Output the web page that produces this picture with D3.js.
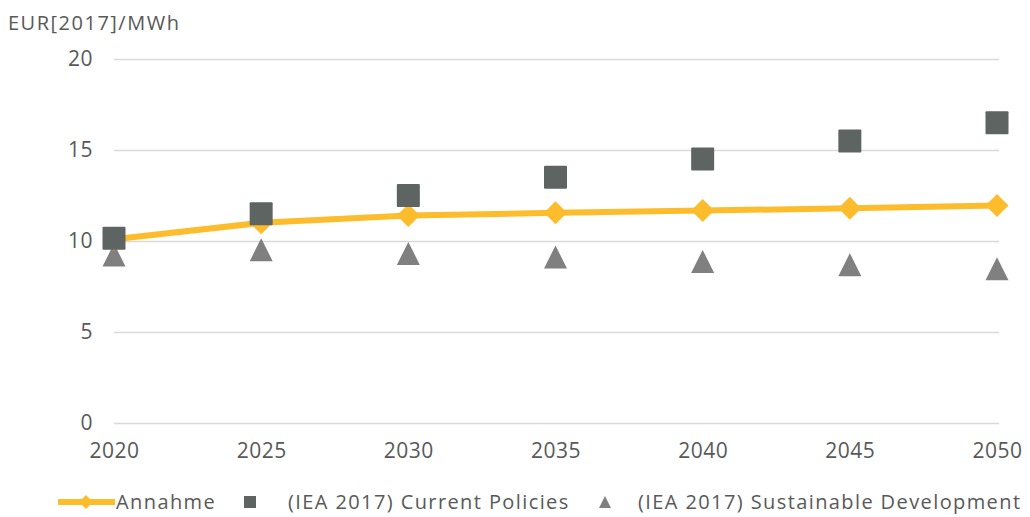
<!DOCTYPE html>
<html>
<head>
<meta charset="utf-8">
<script src="https://cdn.jsdelivr.net/npm/d3@7"></script>
<style>
  body { margin: 0; background: #fff; }
  svg text { font-family: "Open Sans", sans-serif; fill: #595959; }
</style>
</head>
<body>
<svg id="chart" width="1030" height="517"></svg>
<script>
// data
var years = [2020, 2025, 2030, 2035, 2040, 2045, 2050];
var annahme = [10.1, 11.0, 11.4, 11.55, 11.67, 11.8, 11.95];
var currentPolicies = [10.15, 11.5, 12.5, 13.5, 14.5, 15.5, 16.5];
var sustainableDev = [9.23, 9.52, 9.32, 9.12, 8.88, 8.7, 8.48];
var yTicks = [0, 5, 10, 15, 20];
var unitLabel = "EUR[2017]/MWh";
var legendLabels = ["Annahme", "(IEA 2017) Current Policies", "(IEA 2017) Sustainable Development"];

var yellow = "#FDBC2B", squareCol = "#5E6462", triCol = "#808080", gridCol = "#D9D9D9";

var svg = d3.select("#chart");

var x = d3.scaleLinear().domain([2020, 2050]).range([114, 997]);
var y = d3.scaleLinear().domain([0, 20]).range([423, 59]);

// unit label
svg.append("text")
    .attr("x", 8).attr("y", 30)
    .style("font-size", "20px")
    .style("letter-spacing", "1.5px")
    .text(unitLabel);

// horizontal gridlines + y labels
var yAxis = d3.axisLeft(y).tickValues(yTicks).tickSize(-(999 - 114)).tickPadding(21);
var gy = svg.append("g").attr("transform", "translate(114,0)").call(yAxis);
gy.select(".domain").remove();
gy.selectAll(".tick line").attr("stroke", gridCol).attr("stroke-width", 1.5);
gy.selectAll(".tick text").style("font-size", "21px").style("letter-spacing", "0.5px").attr("fill", "#595959");

// x labels
var xAxis = d3.axisBottom(x).tickValues(years).tickFormat(d3.format("d")).tickSize(0).tickPadding(20);
var gx = svg.append("g").attr("transform", "translate(0,423)").call(xAxis);
gx.select(".domain").remove();
gx.selectAll(".tick text").style("font-size", "21px").style("letter-spacing", "0.5px").attr("fill", "#595959");

// triangle helper (isosceles, height = width, centered on bbox)
function tri(cx, cy, s) {
  return "M" + cx + "," + (cy - s / 2) + "L" + (cx + s / 2) + "," + (cy + s / 2) + "L" + (cx - s / 2) + "," + (cy + s / 2) + "Z";
}
function diamond(cx, cy, w, h) {
  return "M" + cx + "," + (cy - h / 2) + "L" + (cx + w / 2) + "," + cy + "L" + cx + "," + (cy + h / 2) + "L" + (cx - w / 2) + "," + cy + "Z";
}

// sustainable development triangles
svg.append("g").selectAll("path")
  .data(years)
  .enter().append("path")
    .attr("d", function(d, i) { return tri(x(d), y(sustainableDev[i]), 23); })
    .attr("fill", triCol);

// annahme line
var line = d3.line()
  .x(function(d, i) { return x(years[i]); })
  .y(function(d) { return y(d); });
svg.append("path")
  .datum(annahme)
  .attr("d", line)
  .attr("fill", "none")
  .attr("stroke", yellow)
  .attr("stroke-width", 6)
  .attr("stroke-linejoin", "round");

svg.append("g").selectAll("path")
  .data(years)
  .enter().append("path")
    .attr("d", function(d, i) { return diamond(x(d), y(annahme[i]), 23, 23); })
    .attr("fill", yellow);

// current policies squares (drawn on top)
svg.append("g").selectAll("rect")
  .data(years)
  .enter().append("rect")
    .attr("x", function(d) { return x(d) - 11.5; })
    .attr("y", function(d, i) { return y(currentPolicies[i]) - 11.5; })
    .attr("width", 23).attr("height", 23)
    .attr("rx", 1)
    .attr("fill", squareCol);

// legend
var ly = 502;
var lg = svg.append("g").style("font-size", "20px").style("letter-spacing", "1.4px");
lg.append("line").attr("x1", 58).attr("x2", 115).attr("y1", ly).attr("y2", ly)
  .attr("stroke", yellow).attr("stroke-width", 6);
lg.append("path").attr("d", diamond(86, ly, 14, 14)).attr("fill", yellow);
lg.append("text").attr("x", 116).attr("y", ly + 7).text(legendLabels[0]);

lg.append("rect").attr("x", 244).attr("y", ly - 6).attr("width", 12).attr("height", 12).attr("fill", squareCol);
lg.append("text").attr("x", 288).attr("y", ly + 7).text(legendLabels[1]);

lg.append("path").attr("d", tri(605, ly, 12)).attr("fill", triCol);
lg.append("text").attr("x", 638).attr("y", ly + 7).text(legendLabels[2]);
</script>
</body>
</html>
